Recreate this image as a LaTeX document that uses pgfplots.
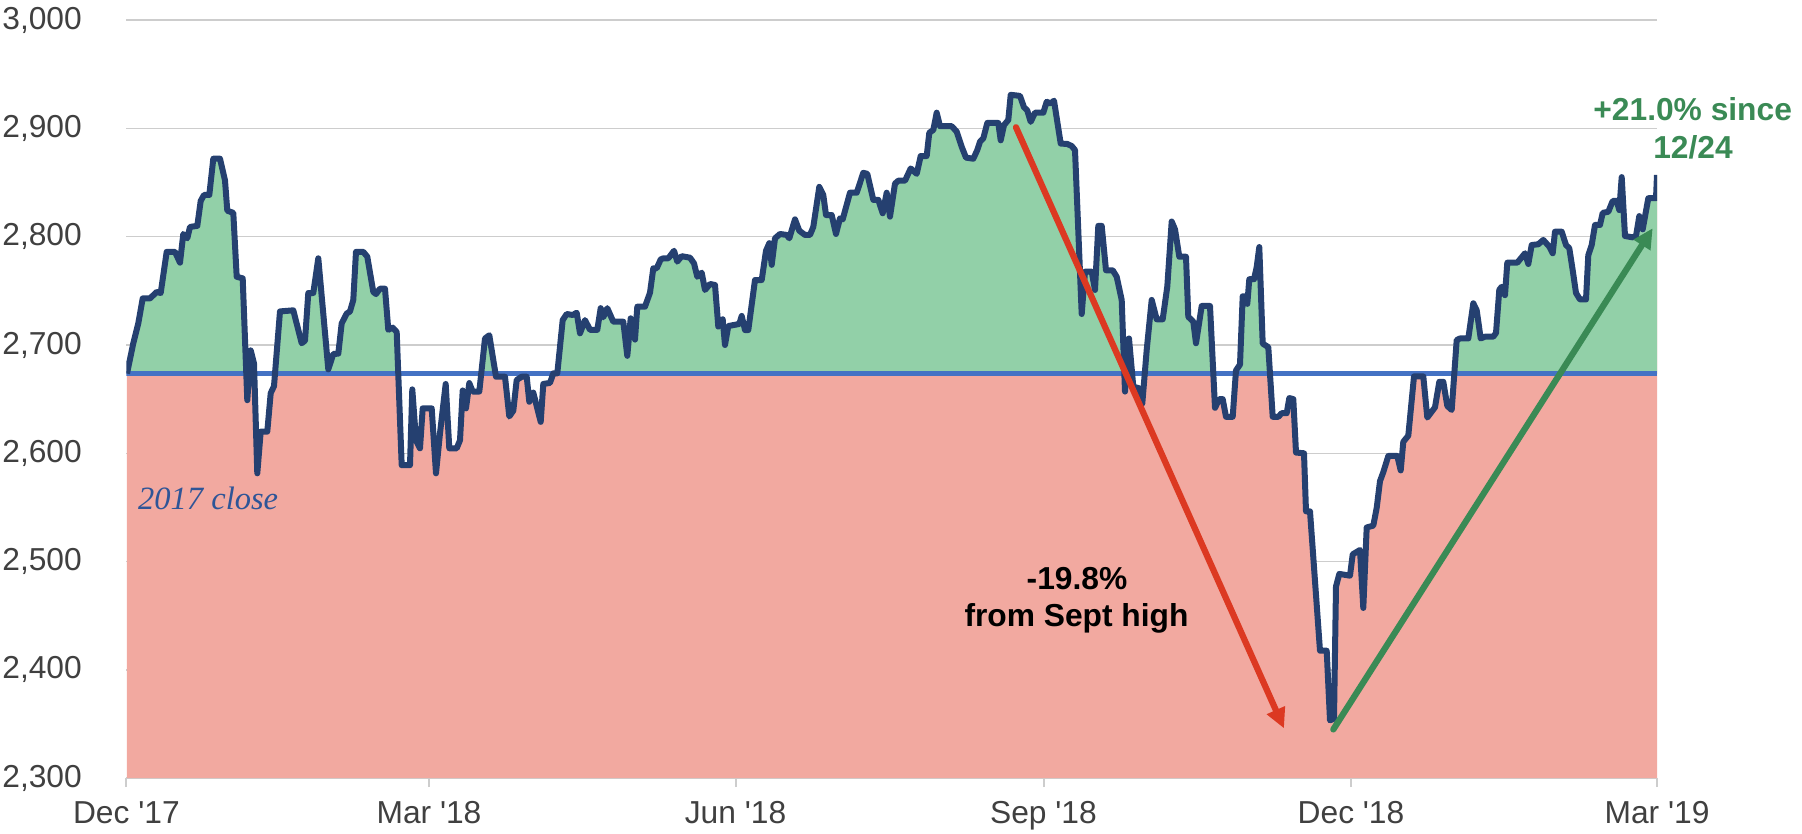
\documentclass[border=0pt]{standalone}
\usepackage{pgfplots}
\pgfplotsset{compat=1.18}
\usepackage{pgfplotstable}
\usetikzlibrary{arrows.meta}
\usepackage{fontspec}
\setmainfont{Liberation Sans}
\newfontfamily\closefont{Liberation Serif}

\definecolor{upgreen}{RGB}{146,208,168}
\definecolor{downred}{RGB}{242,169,160}
\definecolor{spxline}{RGB}{37,64,112}
\definecolor{baseblue}{RGB}{68,114,196}
\definecolor{arrowred}{RGB}{220,57,34}
\definecolor{arrowgreen}{RGB}{58,138,85}
\definecolor{closeblue}{RGB}{47,85,151}
\definecolor{gridgray}{RGB}{205,205,205}
\definecolor{labelgray}{RGB}{64,64,64}

% S&P 500 level, x in chart units (Dec '17 = 126.4 ... Mar '19 = 1657)
\pgfplotstableread{
x y
127 2673.6
133.3 2701.6
138.3 2720
142.7 2743
150 2743
156.7 2749
160.7 2748
166.7 2786
175 2786
180 2776
183.3 2802.5
187.3 2798.5
190 2809
197.3 2810
200.7 2833
204 2838.5
209.3 2838.5
213.3 2872
220 2872
225 2852
227.3 2824
233.3 2822
236.7 2763
242.7 2761.5
247.3 2649
250.7 2695
254 2683
257.3 2581.5
260.7 2620
267.3 2620
270.7 2655.5
274 2662
280 2731
293.3 2732
301.7 2701.6
305 2704
308.3 2748
313.3 2748
318.3 2780
328.3 2677.5
333.3 2691.7
338.3 2692
341.7 2720
346.7 2729
350 2731
353.3 2741.6
356 2786
363.3 2786
367.3 2781.5
373.3 2749
376 2747
380 2752
385 2752
388.3 2714
392.7 2716
396.7 2712
401.7 2589
410 2589
412.3 2659
416 2612
420 2604.6
422.7 2641.5
431.7 2641.5
436 2581.5
440 2618.5
445.7 2664
449.3 2604.6
456.7 2604.6
460 2612
462.7 2658
466 2641.5
469.3 2664.8
472.7 2657
479.3 2657
485 2706
489.3 2709
496 2670.7
505 2670.7
509.3 2634
513.3 2639.3
516.7 2667.7
521.7 2670.7
526.7 2670.7
529.3 2647.6
533.3 2656
540.7 2629
543.3 2664
550 2665
553.3 2673.8
557.3 2673.8
562.7 2723
566.7 2728.6
572.7 2727.7
576.7 2729.8
580 2710.8
585 2723
590 2714
597.3 2714
600.7 2734
603.3 2725.6
607.3 2734
613.3 2721.5
623.3 2721.5
627.3 2690
630.7 2724.6
635 2705
637.3 2735.4
645 2735.4
650 2748.3
653.3 2770.8
656.7 2770.8
660.7 2779
663.3 2780
668.3 2780
674 2787
677.3 2777
681.7 2782
690 2780.6
694 2775.4
697.3 2763
701.7 2766.8
705 2750.8
710 2756.3
715 2755.4
718.3 2717
722.7 2723.7
725 2700
728.3 2717.5
739.3 2719.4
741.7 2726.8
745 2713.8
748.3 2713.8
755 2760
761.7 2760
766 2787
769.3 2794
771.7 2774
775 2798.5
780 2802.5
786.7 2801.6
789.3 2798.5
795 2816
799.3 2805.5
805 2801.6
810 2801.6
813.3 2809
819.3 2846
823.3 2838.5
826 2820
831.7 2820
836 2802.5
840 2817
842.7 2816
850 2840.6
856.7 2840.6
863.3 2859
867.3 2858
873.3 2834
878.3 2834
882.7 2821.6
886.7 2840.6
890 2818.5
895 2849
898.3 2851.7
905 2851.7
910.7 2863
916.7 2858
920.7 2874.5
926.7 2874.5
929.3 2896
933.3 2898.5
936.7 2914.5
940 2902
951.7 2902
956.7 2897
961.7 2883
966 2873
973.3 2872
977.3 2880
980 2887.7
983.3 2890.8
987.3 2905
998.3 2905
1000.7 2889
1004 2903
1008.3 2907.8
1010.7 2931
1020 2930
1024 2919.5
1027.3 2916.5
1030.7 2906
1035 2914.5
1043.3 2914.5
1046.7 2924.6
1050.7 2923
1054 2925.6
1060.7 2886
1067.3 2885.6
1071.7 2883.7
1075 2880
1081.7 2728.6
1085 2767.7
1091.7 2767.7
1095 2750.8
1098.3 2810
1101.7 2810
1106 2769
1112.7 2769
1116.7 2763
1121.7 2741.6
1125 2657
1129 2706
1133.3 2661.5
1139.3 2660
1142.3 2646
1146.7 2695.4
1151.7 2741.6
1156.7 2723.7
1162.7 2723.7
1167.3 2754
1171.7 2814
1175 2806.8
1179.3 2781.5
1186 2781.5
1188.3 2726
1193.3 2721.5
1196 2701.6
1201.7 2736
1210 2736
1215 2642
1219.3 2650
1222.7 2650
1226 2633.7
1232.7 2633.7
1236 2676.5
1240 2682
1242.7 2745
1245 2745
1247.3 2738
1249.3 2760.7
1254 2760.7
1256.7 2772
1259.3 2790.4
1262.7 2701.3
1268.3 2698
1272.7 2633.7
1278.3 2633.7
1281.7 2637
1286.7 2637
1289.3 2651
1293.3 2650
1296 2600.7
1304 2600
1306 2546.4
1310 2546.4
1320 2417.7
1326.7 2417.7
1330 2353.4
1334 2355
1336 2477
1339.3 2488.6
1350 2487
1352.7 2506.7
1360 2510.7
1363.3 2457.2
1366.7 2531.5
1373.3 2533.2
1376.7 2549.6
1380 2574.3
1383.3 2582.6
1388.3 2597.5
1397.3 2597.5
1400.7 2584.2
1403.3 2610.6
1408.3 2616.3
1414 2671
1423.3 2671
1427.3 2633
1435 2642.5
1439.3 2666
1443.3 2666
1447.3 2643.7
1451.7 2640
1456.7 2704.6
1460 2706
1468.3 2706
1473.3 2738.5
1476.7 2732
1480.7 2706
1485 2707.7
1493.3 2707.7
1496 2711
1499.3 2751
1501.7 2753.8
1505 2746
1507.3 2776
1517.3 2776
1525 2784.7
1528.3 2774.8
1531.7 2792.3
1538.3 2793
1543.3 2797
1549.3 2790.8
1552.7 2784.7
1555 2804.6
1561.7 2804.6
1566 2792.3
1569.3 2789.3
1572.7 2769
1576 2748
1580 2742
1586 2742
1588.3 2783
1591.7 2792.3
1595 2810.8
1600 2810.8
1602.7 2822
1608.3 2823
1612.7 2833
1616.7 2833
1619.3 2824.6
1621.7 2855
1625 2800.6
1632.7 2799.4
1636 2800.6
1639.3 2819
1642.7 2806.8
1648.3 2835.5
1656 2835.5
1657 2857
}\spx

\begin{document}
\begin{tikzpicture}
\begin{axis}[
    at={(0,0)}, anchor=south west,
    width=612.24pt, height=303.24pt,
    scale only axis,
    clip mode=individual,
    xmin=126.4, xmax=1657,
    ymin=2300, ymax=3000,
    axis x line*=bottom,
    axis y line*=left,
    y axis line style={draw=none},
    x axis line style={draw=gridgray, line width=0.8pt},
    ytick={2300,2400,...,3000},
    yticklabels={{2,300},{2,400},{2,500},{2,600},{2,700},{2,800},{2,900},{3,000}},
    xtick={126.4,429,735.5,1043.5,1351,1657},
    xticklabels={Dec \textquotesingle17, Mar \textquotesingle18, Jun \textquotesingle18,
                 Sep \textquotesingle18, Dec \textquotesingle18, Mar \textquotesingle19},
    tick align=outside,
    major tick length=3.6pt,
    xtick style={draw=gridgray, line width=0.8pt},
    ytick style={draw=none},
    ymajorgrids=true,
    grid style={draw=gridgray, line width=0.5pt},
    tick label style={font=\fontsize{12.7}{15}\selectfont, text=labelgray},
    yticklabel style={xshift=-10.7pt},
    xticklabel style={yshift=-2.2pt},
]
% below the index line: red
\addplot[fill=downred, draw=none] table[x=x, y=y] {\spx} \closedcycle;
% below the index line and above the 2017 close: green
\begin{scope}
\clip (axis cs:126.4,2673.61) rectangle (axis cs:1657,3000);
\addplot[fill=upgreen, draw=none] table[x=x, y=y] {\spx} \closedcycle;
\end{scope}

% 2017 close
\addplot[baseblue, line width=2.2pt] coordinates {(126.4,2673.61) (1657,2673.61)};
\addplot[spxline, line width=2.4pt, line join=round] table[x=x, y=y] {\spx};

\draw[arrowred, line width=2.5pt, line cap=round, -{Triangle[length=8pt,width=7.5pt]}]
    (axis cs:1016,2901) -- (axis cs:1284,2346);
\draw[arrowgreen, line width=2.5pt, line cap=round, -{Triangle[length=8pt,width=7.5pt]}]
    (axis cs:1333.3,2345) -- (axis cs:1652.7,2807.8);

\node[anchor=base west, inner sep=0pt, text=closeblue, font=\closefont\itshape\fontsize{13}{15}\selectfont]
    at (axis cs:137.7,2548.3) {2017 close};
\node[anchor=base, inner sep=0pt, font=\bfseries\fontsize{12.7}{15}\selectfont]
    at (axis cs:1077,2473.8) {-19.8\%};
\node[anchor=base, inner sep=0pt, font=\bfseries\fontsize{12.7}{15}\selectfont]
    at (axis cs:1076.5,2439.6) {from Sept high};
\node[anchor=base, inner sep=0pt, text=arrowgreen, font=\bfseries\fontsize{12.7}{15}\selectfont]
    at (axis cs:1692.7,2907.1) {+21.0\% since};
\node[anchor=base, inner sep=0pt, text=arrowgreen, font=\bfseries\fontsize{12.7}{15}\selectfont]
    at (axis cs:1693,2872.4) {12/24};
\end{axis}
\pgfresetboundingbox
\path[use as bounding box] (-50.56pt,-22.32pt) rectangle (670.24pt,311.28pt);
\end{tikzpicture}
\end{document}
